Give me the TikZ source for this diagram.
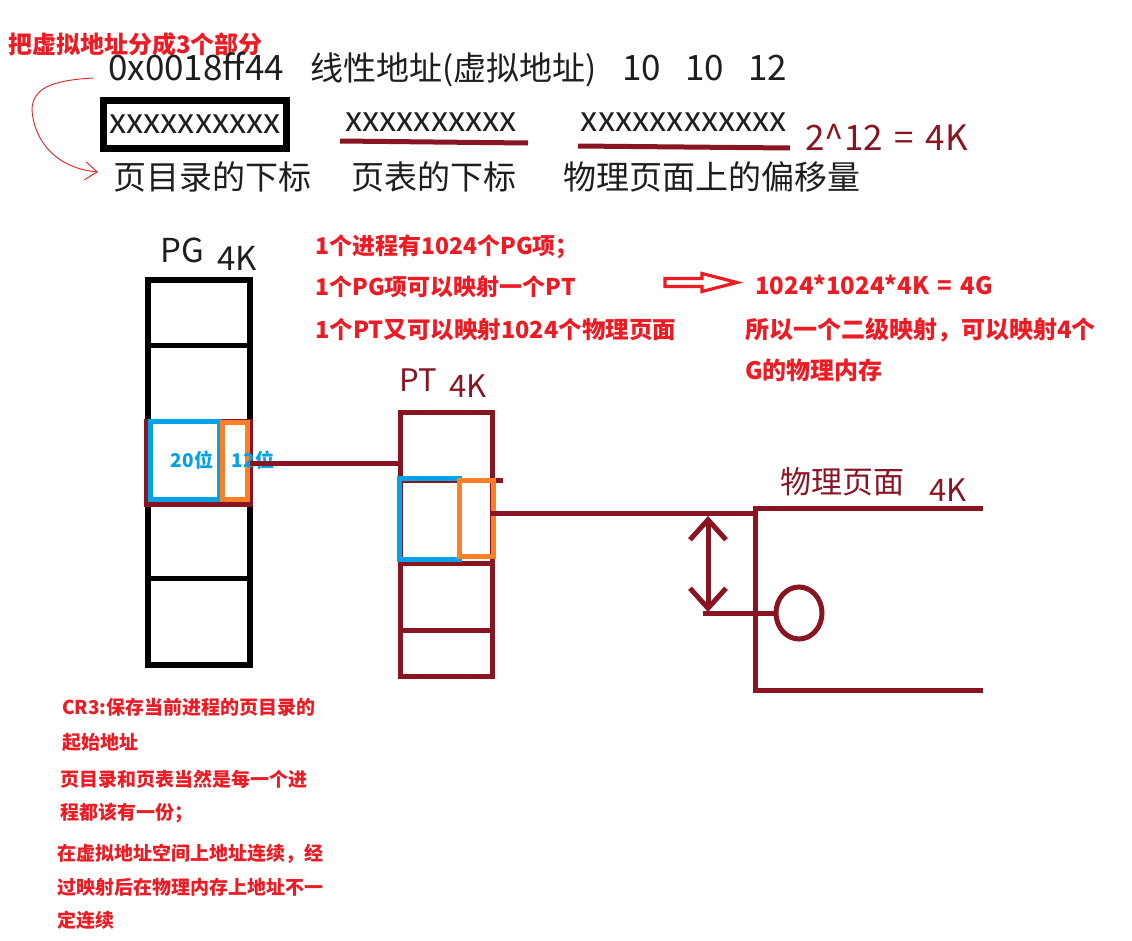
\documentclass[tikz,border=0pt]{standalone}
\usepackage{fontspec}
\usepackage{tikz}
\usetikzlibrary{arrows.meta,shapes.geometric}
\newfontfamily\cjk{Noto Sans CJK SC}
\definecolor{ink}{HTML}{1E1E1E}
\definecolor{hand}{HTML}{8A1522}
\definecolor{note}{HTML}{ED1C24}
\definecolor{pblue}{HTML}{00A2E8}
\definecolor{porange}{HTML}{FF7F27}
\tikzset{
  inkline/.style={draw=black, line width=6pt},
  handline/.style={draw=hand, line width=5pt},
  basebox/.style={draw=pblue, line width=5pt, inner sep=0pt},
  offbox/.style={draw=porange, line width=5pt, inner sep=0pt},
  lab/.style={text=ink, font=\cjk\fontsize{33}{36}\selectfont, inner sep=0pt},
  handlab/.style={text=hand, font=\cjk\fontsize{31}{34}\selectfont, inner sep=0pt},
  notebig/.style={text=note, font=\cjk\bfseries\fontsize{23}{26}\selectfont, inner sep=0pt, anchor=west},
  notesmall/.style={text=note, font=\cjk\bfseries\fontsize{19}{22}\selectfont, inner sep=0pt, anchor=west},
  bitlab/.style={text=pblue, font=\cjk\bfseries\fontsize{19}{22}\selectfont, inner sep=0pt},
}

\begin{document}
\begin{tikzpicture}[x=1pt,y=-1pt]
  \useasboundingbox[fill=white] (0,0) rectangle (1132,940);

  \node[notebig, font=\cjk\bfseries\fontsize{24}{26}\selectfont] (title) at (8,44) {把虚拟地址分成3个部分};
  \node[lab, anchor=west] (addr) at (108,70) {\fontsize{35}{36}\selectfont 0x0018ff44\hspace{26pt}\fontsize{33}{36}\selectfont 线性地址(虚拟地址)\hspace{26pt}\fontsize{35}{36}\selectfont 10\hspace{24pt}10\hspace{24pt}12};
  \coordinate (curlstart) at (93,78);
  \coordinate (curlend) at (98,172);
  \draw[note, line width=0.9pt, -{Straight Barb[length=12pt,width=18pt]}]
    (curlstart) .. controls (60,80) and (32,85) .. (32,110)
    .. controls (34,140) and (55,168) .. (curlend);

  \node[lab, font=\cjk\fontsize{34.5}{36}\selectfont, draw=black, line width=7pt, minimum width=183pt, minimum height=48pt] (dir) at (195,124.5) {xxxxxxxxxx};
  \node[lab, font=\cjk\fontsize{34.5}{36}\selectfont] (tbl) at (431,122) {xxxxxxxxxx};
  \node[lab, font=\cjk\fontsize{34.5}{36}\selectfont] (off) at (684,122) {xxxxxxxxxxxx};
  \draw[handline] (340,141) -- (528,143);
  \draw[handline] (578,146) -- (790,148);
  \node[handlab, anchor=west, font=\cjk\fontsize{35}{36}\selectfont] (size) at (805,137) {2\textasciicircum 12\hspace{4pt} = \hspace{4pt}4K};
  \node[lab] (dirlab) at (212,177) {页目录的下标};
  \node[lab] (tbllab) at (434,177) {页表的下标};
  \node[lab] (offlab) at (712,177) {物理页面上的偏移量};

  \node[lab] (pgname) at (182,250) {PG};
  \node[lab] (pgsize) at (237,258) {4K};
  \node[inkline, minimum width=102pt, minimum height=385pt, inner sep=0pt] (pg) at (199,472.5) {};
  \draw[inkline, line width=5pt] (148,345) -- (250,345);
  \draw[inkline, line width=5pt] (148,578) -- (250,578);
  \draw[handline] (146,421) rectangle (250,504);
  \node[basebox, minimum width=69pt, minimum height=78pt] (pgbase) at (185,460.5) {};
  \node[offbox, minimum width=25pt, minimum height=77pt] (pgoff) at (235,461) {};
  \node[bitlab] at (192,460) {20位};
  \node[bitlab] at (253,460) {12位};

  \node[handlab] (ptname) at (418,380) {PT};
  \node[handlab] (ptsize) at (468,386) {4K};
  \node[handline, minimum width=92pt, minimum height=264pt, inner sep=0pt] (pt) at (446,544) {};
  \draw[handline] (400,480) -- (503,480);
  \draw[handline] (400,563) -- (492,563);
  \draw[handline] (400,630) -- (492,630);
  \node[basebox, minimum width=60pt, minimum height=81pt] (ptbase) at (429.5,519) {};
  \node[offbox, minimum width=34pt, minimum height=76pt] (ptoff) at (476.5,518.5) {};
  \draw[handline] (pgoff.east) ++(0,2) -- (pt.west |- 0,463);

  \node[handlab] (pagename) at (842,482) {物理页面};
  \node[handlab] (pagesize) at (948,490) {4K};
  \coordinate (pagetop) at (755,508);
  \coordinate (pagebot) at (755,690);
  \draw[handline] (983,508) -- (pagetop) -- (pagebot) -- (983,690);
  \coordinate (ptout) at (490,513);
  \draw[handline] (ptout) -- (pagetop |- ptout);
  \coordinate (gaptop) at (708,516);
  \coordinate (gapbot) at (708,612);
  \draw[handline, {Straight Barb[length=20pt,width=36pt]}-{Straight Barb[length=20pt,width=36pt]}] (gaptop) -- (gapbot);
  \node[handline, ellipse, minimum width=46pt, minimum height=52pt, inner sep=0pt] (offset) at (799,613) {};
  \draw[handline] (703,613) -- (offset.west);

  \node[notebig] (l1) at (315,247) {1个进程有1024个PG项；};
  \node[notebig] (l2) at (315,287) {1个PG项可以映射一个PT};
  \node[notebig, font=\cjk\bfseries\fontsize{23.5}{26}\selectfont] (l3) at (315,330) {1个PT又可以映射1024个物理页面};
  \draw[note, line width=3.2pt] (665,278.5) -- (702,278.5) -- (702,273.5) -- (737,282.5)
    -- (702,291.5) -- (702,286.5) -- (665,286.5) -- cycle;
  \node[notebig, font=\cjk\bfseries\fontsize{24}{26}\selectfont] (total) at (755,285) {1024*1024*4K\hspace{3pt} = \hspace{3pt}4G};
  \node[notebig, font=\cjk\bfseries\fontsize{24}{26}\selectfont] (r1) at (745,330) {所以一个二级映射，可以映射4个};
  \node[notebig, font=\cjk\bfseries\fontsize{24}{26}\selectfont] (r2) at (745,370) {G的物理内存};

  \node[notesmall] (c1) at (62,707) {CR3:保存当前进程的页目录的};
  \node[notesmall] (c2) at (62,742) {起始地址};
  \node[notesmall] (c3) at (60,779) {页目录和页表当然是每一个进};
  \node[notesmall] (c4) at (60,813) {程都该有一份；};
  \node[notesmall] (c5) at (57,854) {在虚拟地址空间上地址连续，经};
  \node[notesmall] (c6) at (57,887) {过映射后在物理内存上地址不一};
  \node[notesmall] (c7) at (57,920) {定连续};
\end{tikzpicture}
\end{document}
